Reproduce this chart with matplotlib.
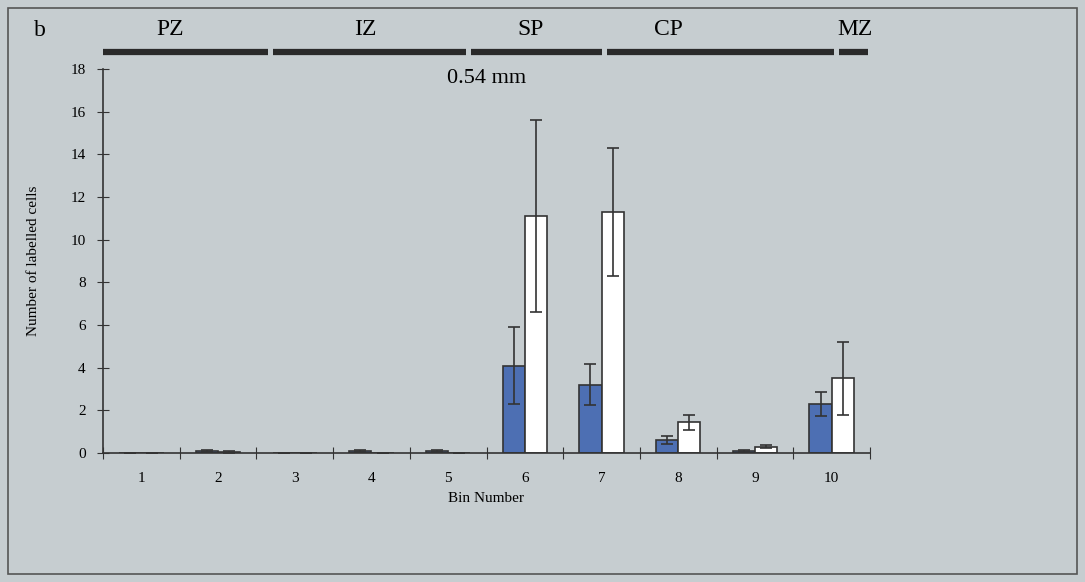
import numpy as np
import matplotlib.pyplot as plt
from matplotlib.patches import Rectangle

plt.rcParams['font.family'] = ['Liberation Serif', 'DejaVu Serif']

# Data
bins = [1, 2, 3, 4, 5, 6, 7, 8, 9, 10]
blue_vals = [0.0, 0.1, 0.0, 0.1, 0.1, 4.1, 3.2, 0.6, 0.1, 2.3]
blue_err = [0.0, 0.05, 0.0, 0.05, 0.05, 1.8, 0.95, 0.2, 0.03, 0.55]
white_vals = [0.0, 0.05, 0.0, 0.0, 0.0, 11.1, 11.3, 1.45, 0.3, 3.5]
white_err = [0.0, 0.03, 0.0, 0.0, 0.0, 4.5, 3.0, 0.35, 0.06, 1.7]

zones = ["PZ", "IZ", "SP", "CP", "MZ"]
zone_start = [-0.5, 1.72, 4.3, 6.07, 9.1]
zone_end = [1.65, 4.23, 6.0, 9.03, 9.47]
zone_label_x = [0.37, 2.92, 5.07, 6.87, 9.3]

bg = '#c6cdd0'
fig = plt.figure(figsize=(10.85, 5.82), dpi=100, facecolor=bg)
ax = fig.add_axes([103 / 1085, 1 - 453 / 582, 767 / 1085, 384 / 582])
ax.set_facecolor(bg)

x = np.arange(len(bins))
w = 0.29
ax.bar(x - w / 2, blue_vals, w, color='#4d6fb3', edgecolor='#333333', linewidth=1.2)
ax.bar(x + w / 2, white_vals, w, color='white', edgecolor='#333333', linewidth=1.2)
ax.errorbar(x - w / 2, blue_vals, yerr=blue_err, fmt='none', ecolor='#333333',
            elinewidth=1.2, capsize=4, capthick=1.2)
ax.errorbar(x + w / 2, white_vals, yerr=white_err, fmt='none', ecolor='#333333',
            elinewidth=1.2, capsize=4, capthick=1.2)

ax.set_xlim(-0.5, 9.5)
ax.set_ylim(0, 18)
ax.set_yticks(range(0, 19, 2))
ax.set_xticks(np.arange(-0.5, 10, 1))
ax.set_xticklabels([])
ax.set_xticks(x, minor=True)
ax.set_xticklabels([str(b) for b in bins], minor=True, fontsize=11)
ax.tick_params(axis='x', which='minor', length=0, pad=14)
ax.tick_params(axis='x', which='major', direction='inout', length=9, color='#333333')
ax.tick_params(axis='y', direction='inout', length=9, labelsize=11, color='#333333', pad=8)
for s in ['top', 'right']:
    ax.spines[s].set_visible(False)
for s in ['left', 'bottom']:
    ax.spines[s].set_color('#333333')
    ax.spines[s].set_linewidth(1.2)

ax.set_xlabel('Bin Number', fontsize=11, labelpad=5)
ax.set_ylabel('Number of labelled cells', fontsize=11, labelpad=22)

ax.text(4.5, 17.55, '0.54 mm', ha='center', va='center', fontsize=16)

# zone header bars above the axes
for a, b in zip(zone_start, zone_end):
    ax.plot([a, b], [18.8, 18.8], color='#2a2a2a', linewidth=4.5,
            solid_capstyle='butt', clip_on=False)
for name, cx in zip(zones, zone_label_x):
    ax.text(cx, 19.85, name, ha='center', va='center', fontsize=17, clip_on=False)
fig.text(40 / 1085, 1 - 30 / 582, 'b', fontsize=17, ha='center', va='center')

fig.patches.append(Rectangle((8 / 1085, 8 / 582), 1 - 16 / 1085, 1 - 16 / 582,
                             transform=fig.transFigure, fill=False,
                             edgecolor='#555555', linewidth=1.2))

fig.savefig('out.png', dpi=100, facecolor=bg)
